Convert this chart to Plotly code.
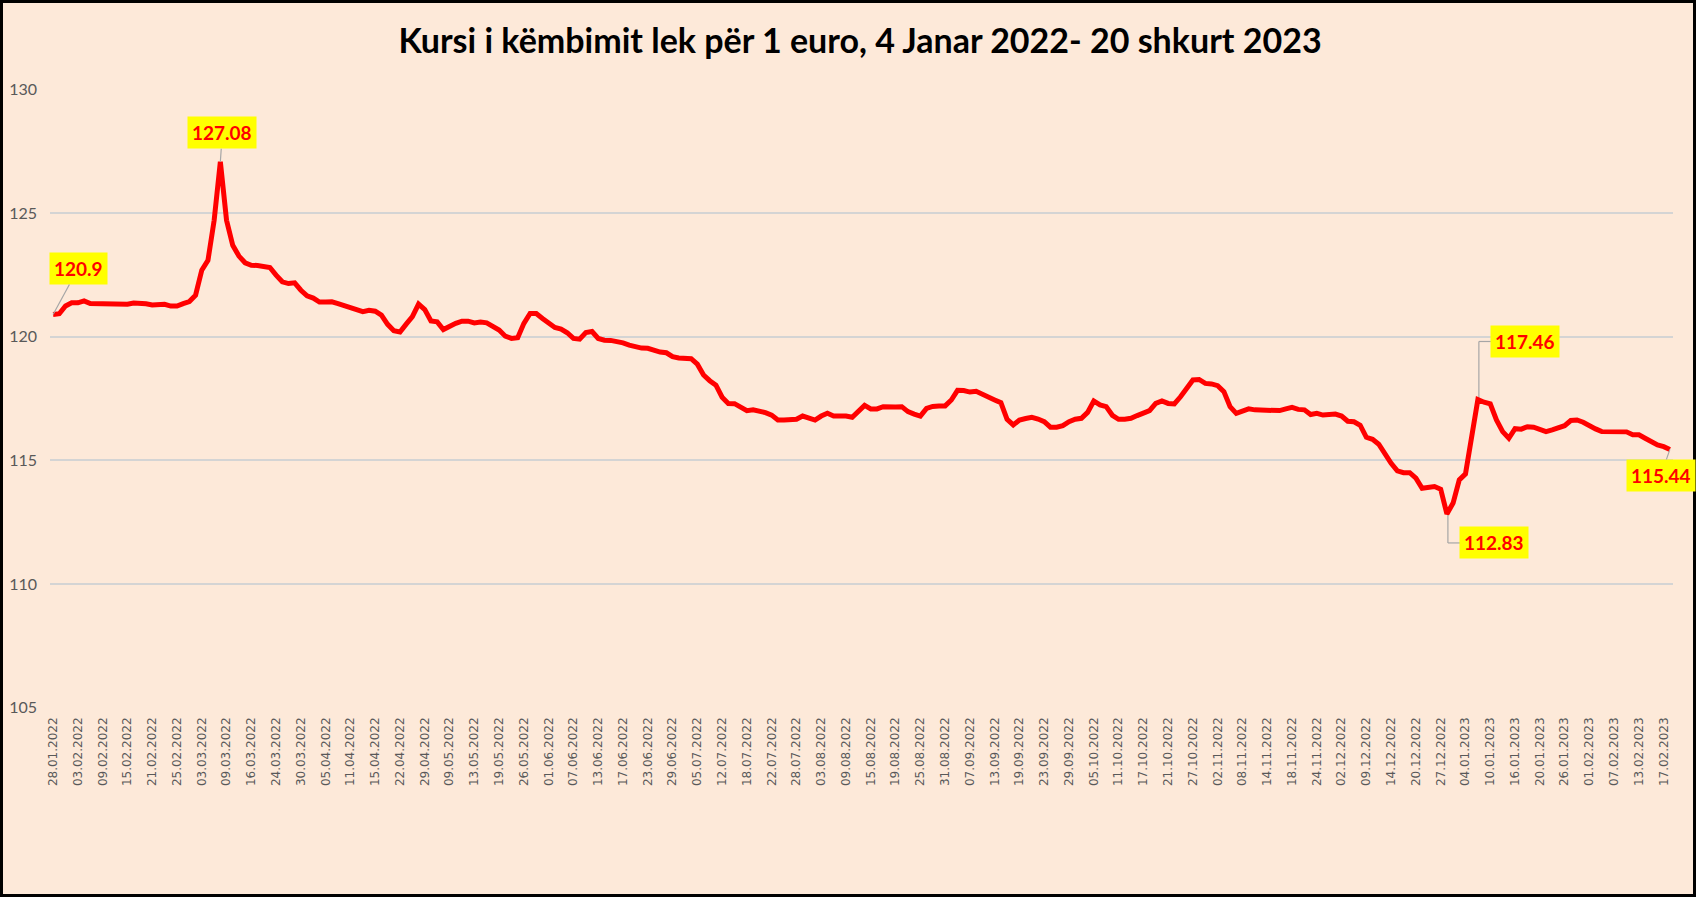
import plotly.graph_objects as go

# ---------------- data ----------------
tick_labels = [
    "28.01.2022", "03.02.2022", "09.02.2022", "15.02.2022", "21.02.2022", "25.02.2022",
    "03.03.2022", "09.03.2022", "16.03.2022", "24.03.2022", "30.03.2022", "05.04.2022",
    "11.04.2022", "15.04.2022", "22.04.2022", "29.04.2022", "09.05.2022", "13.05.2022",
    "19.05.2022", "26.05.2022", "01.06.2022", "07.06.2022", "13.06.2022", "17.06.2022",
    "23.06.2022", "29.06.2022", "05.07.2022", "12.07.2022", "18.07.2022", "22.07.2022",
    "28.07.2022", "03.08.2022", "09.08.2022", "15.08.2022", "19.08.2022", "25.08.2022",
    "31.08.2022", "07.09.2022", "13.09.2022", "19.09.2022", "23.09.2022", "29.09.2022",
    "05.10.2022", "11.10.2022", "17.10.2022", "21.10.2022", "27.10.2022", "02.11.2022",
    "08.11.2022", "14.11.2022", "18.11.2022", "24.11.2022", "02.12.2022", "09.12.2022",
    "14.12.2022", "20.12.2022", "27.12.2022", "04.01.2023", "10.01.2023", "16.01.2023",
    "20.01.2023", "26.01.2023", "01.02.2023", "07.02.2023", "13.02.2023", "17.02.2023",
]
label_every = 4

eur_all = [
    120.90, 120.93, 121.24, 121.37, 121.37, 121.45, 121.34, 121.34, 121.34, 121.33,
    121.30, 121.30, 121.31, 121.36, 121.36, 121.33, 121.28, 121.28, 121.31, 121.24,
    121.24, 121.34, 121.42, 121.68, 122.69, 123.09, 124.71, 127.08, 124.71, 123.70,
    123.26, 122.99, 122.89, 122.88, 122.85, 122.80, 122.49, 122.22, 122.15, 122.18,
    121.88, 121.65, 121.56, 121.40, 121.40, 121.41, 121.34, 121.25, 121.14, 121.06,
    121.01, 121.07, 121.03, 120.87, 120.50, 120.24, 120.19, 120.51, 120.81, 121.32,
    121.10, 120.64, 120.60, 120.29, 120.43, 120.54, 120.63, 120.63, 120.56, 120.59,
    120.56, 120.43, 120.27, 120.02, 119.93, 119.96, 120.54, 120.94, 120.94, 120.74,
    120.54, 120.37, 120.31, 120.16, 119.93, 119.90, 120.17, 120.21, 119.93, 119.86,
    119.85, 119.82, 119.75, 119.66, 119.59, 119.54, 119.53, 119.43, 119.38, 119.35,
    119.19, 119.14, 119.12, 119.11, 118.89, 118.45, 118.22, 118.04, 117.55, 117.30,
    117.29, 117.17, 117.01, 117.04, 117.00, 116.93, 116.83, 116.63, 116.63, 116.63,
    116.66, 116.79, 116.71, 116.63, 116.79, 116.90, 116.79, 116.81, 116.79, 116.74,
    116.97, 117.22, 117.08, 117.08, 117.17, 117.14, 117.16, 117.17, 116.97, 116.87,
    116.79, 117.10, 117.18, 117.20, 117.20, 117.44, 117.83, 117.82, 117.76, 117.79,
    117.66, 117.55, 117.44, 117.33, 116.66, 116.43, 116.63, 116.69, 116.74, 116.67,
    116.56, 116.34, 116.34, 116.40, 116.56, 116.66, 116.70, 116.94, 117.40, 117.24,
    117.17, 116.82, 116.66, 116.66, 116.70, 116.81, 116.93, 117.01, 117.30, 117.40,
    117.30, 117.28, 117.57, 117.91, 118.25, 118.27, 118.11, 118.09, 118.02, 117.78,
    117.17, 116.90, 116.97, 117.08, 117.04, 117.04, 117.04, 117.01, 117.01, 117.08,
    117.14, 117.06, 117.04, 116.85, 116.90, 116.83, 116.86, 116.87, 116.79, 116.58,
    116.56, 116.42, 115.93, 115.85, 115.65, 115.25, 114.88, 114.57, 114.50, 114.50,
    114.28, 113.87, 113.91, 113.94, 113.83, 112.83, 113.27, 114.21, 114.45, 115.96,
    117.46, 117.35, 117.28, 116.63, 116.16, 115.89, 116.28, 116.26, 116.36, 116.34,
    116.23, 116.16, 116.23, 116.30, 116.40, 116.61, 116.63, 116.54, 116.39, 116.27,
    116.16, 116.16, 116.15, 116.12, 116.15, 116.03, 116.03, 115.89, 115.76, 115.62,
    115.55, 115.44,
]

# points that carry a data label
labelled_points = [0, 27, 225, 230, 261]

title_text = "Kursi i këmbimit lek për 1 euro, 4 Janar 2022- 20 shkurt 2023"

# ---------------- figure ----------------
W, H = 1696, 897
ML, MR, MT, MB = 50, 23, 89, 189
PW, PH = W - ML - MR, H - MT - MB

x_idx = list(range(len(eur_all)))
tick_vals = [i * label_every for i in range(len(tick_labels))]

BG = "#FDE9D9"
RED = "#FF0000"
GRAY_TXT = "#595959"
LEADER = "#A6A6A6"

fig = go.Figure()
fig.add_trace(go.Scatter(
    x=x_idx, y=eur_all, mode="lines",
    line=dict(color=RED, width=5, shape="linear"),
    hoverinfo="skip", showlegend=False,
))

label_font = dict(family="Lato, Noto Sans, sans-serif", size=19, color=RED, weight="bold")

# label styles, in the order of labelled_points
# kind "arrow": straight leader; kind "elbow": elbow leader drawn with pixel shapes
label_style = [
    dict(kind="arrow", ax=25, ay=-46),
    dict(kind="arrow", ax=2, ay=-29),
    dict(kind="elbow", dx=12, dy=-29, stub=2),
    dict(kind="elbow", dx=12, dy=58, stub=2),
    dict(kind="arrow", ax=-9, ay=26),
]
for idx, st in zip(labelled_points, label_style):
    val = eur_all[idx]
    if st["kind"] == "arrow":
        fig.add_annotation(
            x=idx, y=val, xref="x", yref="y", text=f"{val:g}",
            showarrow=True, arrowhead=0, arrowwidth=1.2, arrowcolor=LEADER,
            ax=st["ax"], ay=st["ay"], xanchor="center", yanchor="middle",
            bgcolor="#FFFF00", borderpad=4, font=label_font,
        )
    else:
        fig.add_annotation(
            x=idx, y=val, xref="x", yref="y", text=f"{val:g}",
            showarrow=False, xanchor="left", yanchor="middle",
            xshift=st["dx"], yshift=st["dy"],
            bgcolor="#FFFF00", borderpad=4, font=label_font,
        )
        # vertical part of the leader
        fig.add_shape(
            type="line", xref="x", yref="y", xsizemode="pixel", ysizemode="pixel",
            xanchor=idx, yanchor=val, x0=1, x1=1, y0=0, y1=st["dy"],
            line=dict(color=LEADER, width=1.2), layer="below",
        )
        # horizontal part of the leader
        fig.add_shape(
            type="line", xref="x", yref="y", xsizemode="pixel", ysizemode="pixel",
            xanchor=idx, yanchor=val, x0=1, x1=st["dx"] + st["stub"], y0=st["dy"], y1=st["dy"],
            line=dict(color=LEADER, width=1.2), layer="below",
        )

# outer black frame
def px_to_paper_x(px):
    return (px - ML) / PW

def px_to_paper_y(py):
    return (H - MB - py) / PH

fig.add_shape(
    type="rect", xref="paper", yref="paper",
    x0=px_to_paper_x(1.5), x1=px_to_paper_x(W - 1.5),
    y0=px_to_paper_y(H - 1.5), y1=px_to_paper_y(1.5),
    line=dict(color="black", width=3), fillcolor="rgba(0,0,0,0)", layer="above",
)

fig.update_layout(
    width=W, height=H,
    margin=dict(l=ML, r=MR, t=MT, b=MB, autoexpand=False),
    paper_bgcolor=BG, plot_bgcolor=BG,
    title=dict(
        text=title_text, x=860 / W, xanchor="center", xref="container",
        y=1 - 41 / H, yanchor="middle", yref="container",
        font=dict(family="Lato, Noto Sans, sans-serif", size=34, color="black", weight="bold"),
    ),
    xaxis=dict(
        range=[-0.5, len(eur_all) - 0.5],
        tickmode="array", tickvals=tick_vals, ticktext=tick_labels,
        tickangle=-90, showgrid=False, zeroline=False, showline=False,
        ticks="", ticklabelstandoff=6,
        tickfont=dict(family="DejaVu Sans, sans-serif", size=12, color=GRAY_TXT),
    ),
    yaxis=dict(
        range=[104.98, 130.02], tickmode="array", tickvals=[105, 110, 115, 120, 125, 130],
        showgrid=True, gridcolor="#D4D4D4", gridwidth=1.5,
        zeroline=False, showline=False, ticks="", ticklabelstandoff=12,
        tickfont=dict(family="Lato, Noto Sans, sans-serif", size=16, color=GRAY_TXT),
    ),
)

fig.write_html("out.html")
